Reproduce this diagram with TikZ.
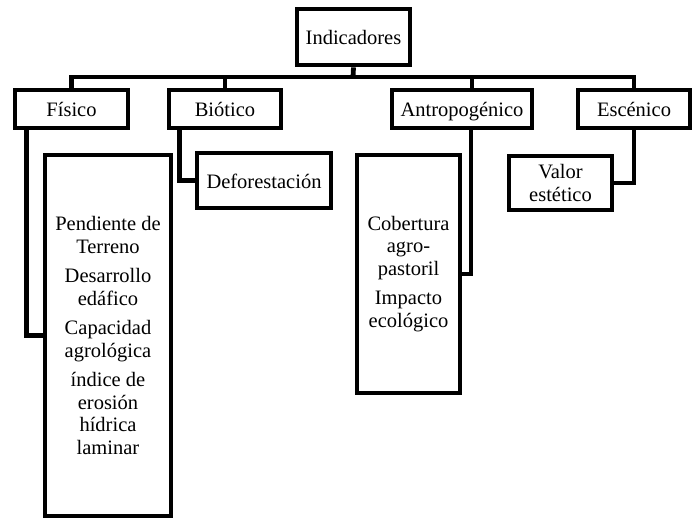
\documentclass[tikz,border=0pt]{standalone}
\usepackage{fontspec}
\setmainfont{Liberation Serif}
\usepackage{tikz}

\begin{document}
\begin{tikzpicture}[x=1pt,y=1pt,
    caja/.style={draw,line width=4.8pt,align=center,inner sep=2pt,
      font=\fontsize{20.5}{22.5}\selectfont},
    simple/.style={caja,text height=17pt,text depth=1pt},
    linea/.style={line width=4.8pt}]
  \useasboundingbox (0,0) rectangle (699,-521);
  % nivel superior
  \node[simple,minimum width=113,minimum height=56] (ind) at (353.5,-37) {Indicadores};
  \node[simple,minimum width=113,minimum height=38] (fis) at (71.5,-109) {Físico};
  \node[simple,minimum width=112,minimum height=38] (bio) at (225,-109) {Biótico};
  \node[simple,minimum width=140,minimum height=38] (ant) at (462,-109) {Antropogénico};
  \node[simple,minimum width=112,minimum height=38] (esc) at (634,-109) {Escénico};
  % indicadores de cada grupo
  \node[caja,minimum width=126,minimum height=361] (fisl) at (108,-335.5)
    {Pendiente de\\Terreno\\[7pt]Desarrollo\\edáfico\\[7pt]Capacidad\\agrológica\\[7pt]índice de\\erosión\\hídrica\\laminar};
  \node[simple,minimum width=134,minimum height=55] (def) at (264,-180.5) {Deforestación};
  \node[caja,minimum width=103,minimum height=238] (antl) at (408.5,-274)
    {Cobertura\\agro-\\pastoril\\[7pt]Impacto\\ecológico};
  \node[caja,minimum width=103,minimum height=54] (val) at (560.5,-183) {Valor\\estético};
  % conectores
  \coordinate (bus) at (353,-77);
  \draw[linea] (ind.south) -- (bus);
  \draw[linea] (fis.north) |- (bus) -| (esc.north);
  \draw[linea] (bio.north) -- (bio.north |- bus);
  \draw[linea] ([xshift=10pt]ant.north) -- ([xshift=10pt]ant.north |- bus);
  \draw[linea] ([xshift=14pt]fis.south west) |- (fisl.west);
  \draw[linea] ([xshift=13pt]bio.south west) |- (def.west);
  \draw[linea] ([xshift=9pt]ant.south) |- (antl.east);
  \draw[linea] (esc.south) |- (val.east);
\end{tikzpicture}
\end{document}
